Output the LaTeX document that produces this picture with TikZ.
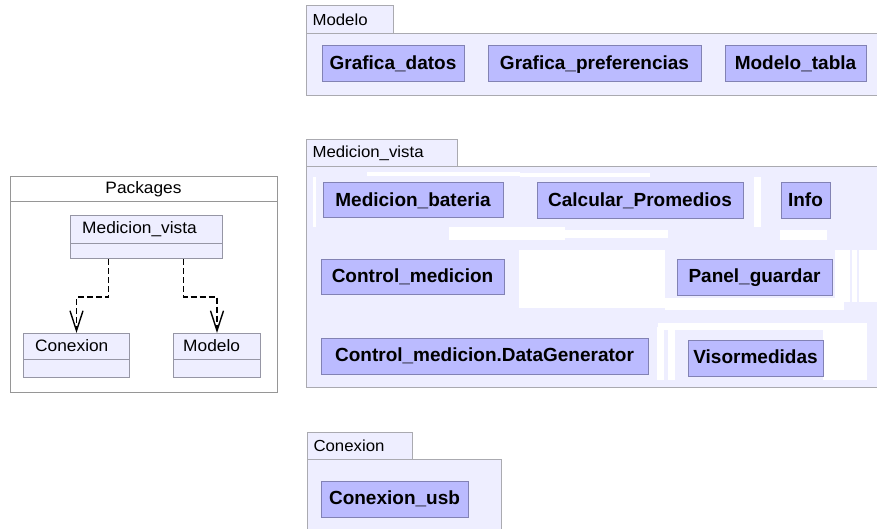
\documentclass[tikz,border=0pt]{standalone}
\usepackage{fontspec}
\setmainfont{Liberation Sans}
\newfontfamily\uireg[FakeStretch=1.05]{Liberation Sans}
\newfontfamily\uibold[FakeStretch=1.0]{Liberation Sans}
\usetikzlibrary{arrows.meta,calc}

\definecolor{pkgfill}{RGB}{238,238,255}
\definecolor{pkgline}{RGB}{170,170,176}
\definecolor{clsfill}{RGB}{187,187,255}
\definecolor{clsline}{RGB}{130,130,180}
\definecolor{frameline}{RGB}{150,150,150}
\definecolor{umlline}{RGB}{150,150,165}

\tikzset{
  pkgpart/.style={draw=pkgline, fill=pkgfill, line width=1pt, inner sep=0pt},
  pkgtab/.style={pkgpart, anchor=north west, inner xsep=6pt, align=left,
    font=\uireg\fontsize{16}{18}\selectfont},
  cls/.style={draw=clsline, fill=clsfill, line width=1pt, inner sep=0pt,
    text depth=2pt, font=\uibold\bfseries\fontsize{19}{21}\selectfont},
  umlbox/.style={draw=umlline, fill=pkgfill, line width=1pt, inner sep=0pt},
  umltext/.style={anchor=west, inner sep=0pt, font=\uireg\fontsize{16.5}{18}\selectfont},
  dep/.style={draw=black, line width=1.3pt, dash pattern=on 6pt off 3pt,
    -{Straight Barb[length=20pt,width=13pt,line width=1.4pt,sep=0pt]}},
  patch/.style={fill=white, draw=none}
}

\begin{document}
\begin{tikzpicture}[x=1pt,y=-1pt]
\useasboundingbox (0,0) rectangle (877,529);
\clip (0,0) rectangle (877,529);

% ---------------- package overview on the left ----------------
\node[draw=frameline, fill=white, line width=1pt, minimum width=267pt,
      minimum height=216pt, anchor=north west, inner sep=0pt] (frame) at (10,176) {};
\draw[frameline, line width=1pt] (frame.west |- 0,202) -- (frame.east |- 0,202);
\node[inner sep=0pt, font=\uireg\fontsize{16.5}{18}\selectfont] (frametitle) at (143.5,189) {Packages};

\node[umlbox, minimum width=152pt, minimum height=43pt, anchor=north west] (mv) at (70,215) {};
\draw[umlline, line width=1pt] (mv.west |- 0,243) -- (mv.east |- 0,243);
\node[umltext] (mvname) at (82,229) {Medicion\_vista};

\node[umlbox, minimum width=106pt, minimum height=44pt, anchor=north west] (cx) at (23,333) {};
\draw[umlline, line width=1pt] (cx.west |- 0,359) -- (cx.east |- 0,359);
\node[umltext] (cxname) at (35,346) {Conexion};

\node[umlbox, minimum width=87pt, minimum height=44pt, anchor=north west] (md) at (173,333) {};
\draw[umlline, line width=1pt] (md.west |- 0,359) -- (md.east |- 0,359);
\node[umltext] (mdname) at (183,346) {Modelo};

\draw[dep] ([xshift=-38pt]mv.south) -- ++(0,38) -| (cx.north);
\draw[dep] ([xshift=37pt]mv.south) -- ++(0,38) -| (md.north);

% ---------------- package Modelo ----------------
\node[pkgpart, anchor=north west, minimum width=600pt, minimum height=62pt] (modeloBody) at (306,33) {};
\node[pkgtab, minimum width=87pt, minimum height=28pt, text width=75pt] (modeloTab) at (306,5) {Modelo};

\node[cls, minimum width=142pt, minimum height=36pt] (gdatos) at (393,64) {Grafica\_datos};
\node[cls, minimum width=213pt, minimum height=36pt] (gpref) at (594.5,64) {Grafica\_preferencias};
\node[cls, minimum width=141pt, minimum height=36pt] (mtabla) at (795.5,64) {Modelo\_tabla};

% ---------------- package Medicion_vista ----------------
\node[pkgpart, anchor=north west, minimum width=600pt, minimum height=221pt] (mvBody) at (306,166) {};
\node[pkgtab, minimum width=151pt, minimum height=27pt, text width=139pt] (mvTab) at (306,139) {Medicion\_vista};

% white patches over the package body
\fill[patch] (367,172) rectangle (520,176);
\fill[patch] (520,173) rectangle (650,177);
\fill[patch] (313,177) rectangle (316,227);
\fill[patch] (754,177) rectangle (761,227);
\fill[patch] (449,227) rectangle (565,240);
\fill[patch] (557,230) rectangle (668,238);
\fill[patch] (780,230) rectangle (827,240);
\fill[patch] (519,250) rectangle (665,308);
\fill[patch] (665,298) rectangle (844,310);
\fill[patch] (835,250) rectangle (850,302);
\fill[patch] (852,250) rectangle (857,302);
\fill[patch] (859,250) rectangle (877,302);
\fill[patch] (658,323) rectangle (829,330);
\fill[patch] (657,327) rectangle (664,380);
\fill[patch] (668,327) rectangle (675,380);
\fill[patch] (823,323) rectangle (867,380);

\node[cls, minimum width=180pt, minimum height=35pt] (mbat) at (413,200.5) {Medicion\_bateria};
\node[cls, minimum width=206pt, minimum height=36pt] (cprom) at (640,201) {Calcular\_Promedios};
\node[cls, minimum width=49pt, minimum height=36pt] (info) at (805.5,201) {Info};
\node[cls, minimum width=183pt, minimum height=35pt] (cmed) at (412.5,276.5) {Control\_medicion};
\node[cls, minimum width=155pt, minimum height=36pt] (pguard) at (754.5,277) {Panel\_guardar};
\node[cls, minimum width=327pt, minimum height=36pt] (dgen) at (484.5,356) {Control\_medicion.DataGenerator};
\node[cls, minimum width=135pt, minimum height=36pt] (visor) at (755.5,358) {Visormedidas};

% ---------------- package Conexion ----------------
\node[pkgpart, anchor=north west, minimum width=194pt, minimum height=90pt] (cxBody) at (307,459) {};
\node[pkgtab, minimum width=105pt, minimum height=27pt, text width=93pt] (cxTab) at (307,432) {Conexion};

\node[cls, minimum width=147pt, minimum height=36pt] (cusb) at (394.5,499) {Conexion\_usb};

\end{tikzpicture}
\end{document}
